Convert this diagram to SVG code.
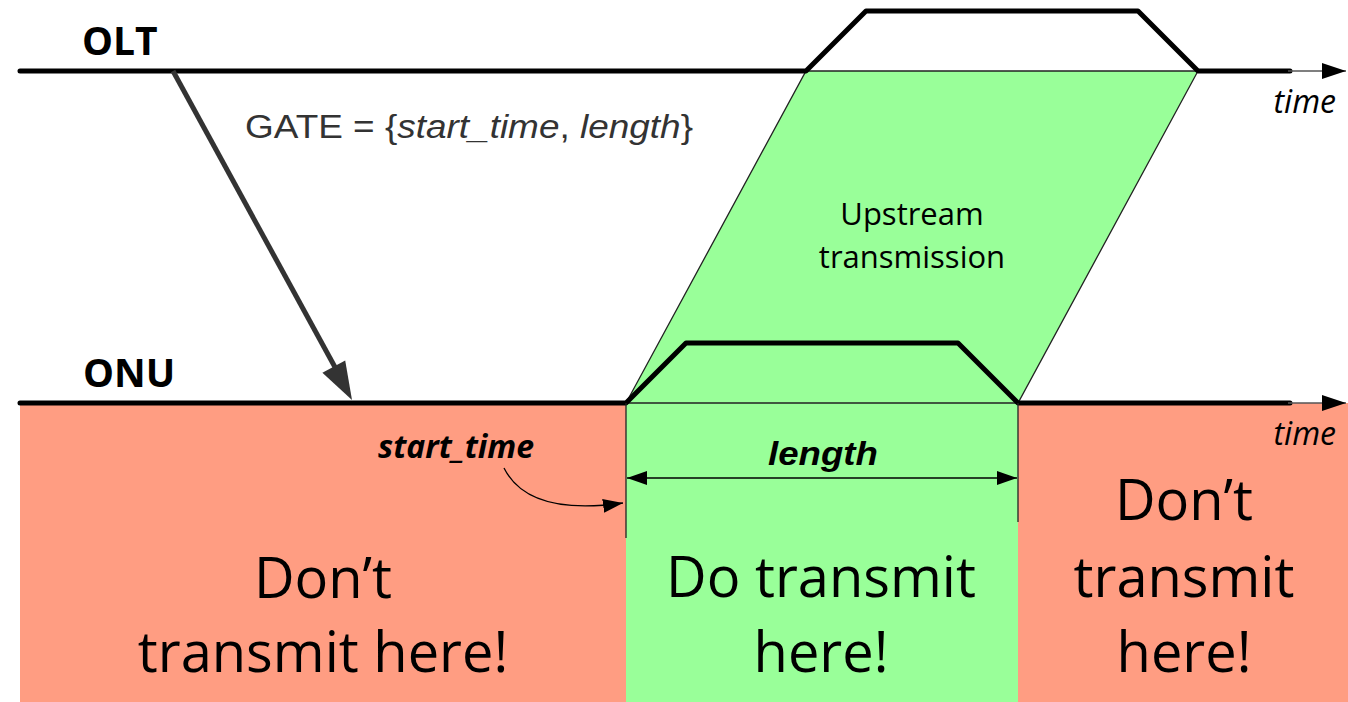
<svg xmlns="http://www.w3.org/2000/svg" width="1348" height="702" viewBox="0 0 1348 702">
<style>
.thick{stroke:#000;stroke-width:5;fill:none;stroke-linecap:round;stroke-linejoin:round}
.axis{stroke:#555;stroke-width:1.5;fill:none}
.edge{stroke:#222;stroke-width:1.3;fill:none}
.red{fill:#FF9D82}
.green{fill:#99FF99}
.big{font-family:"Open Sans",sans-serif;font-size:56px;text-anchor:middle;fill:#000}
.mid{font-family:"Open Sans",sans-serif;font-size:31px;text-anchor:middle;fill:#000}
.lbl{font-family:"Open Sans",sans-serif;font-size:39px;font-weight:bold;fill:#000}
.time{font-family:"Open Sans",sans-serif;font-size:32px;font-style:italic;text-anchor:end;fill:#000}
.arial{font-family:"Liberation Sans",Arial,sans-serif}
</style>
<defs>
<marker id="axisHead" viewBox="0 0 24 16" refX="24" refY="8" markerWidth="24" markerHeight="16" markerUnits="userSpaceOnUse" orient="auto">
<path d="M0,0 L24,8 L0,16 z" fill="#000"/>
</marker>
<marker id="smallHead" viewBox="0 0 20 14" refX="20" refY="7" markerWidth="20" markerHeight="14" markerUnits="userSpaceOnUse" orient="auto-start-reverse">
<path d="M0,0 L20,7 L0,14 z" fill="#000"/>
</marker>
</defs>
<rect width="1348" height="702" fill="#fff"/>

<g id="dont-left">
<rect class="red" x="20" y="403" width="606" height="299"/>
<text class="big" x="323" y="598">Don’t</text>
<text class="big" x="323" y="672">transmit here!</text>
</g>
<g id="do-transmit">
<rect class="green" x="626" y="403" width="392" height="299"/>
<text class="big" x="821" y="597">Do transmit</text>
<text class="big" x="821" y="672">here!</text>
</g>
<g id="dont-right">
<rect class="red" x="1018" y="403" width="330" height="299"/>
<text class="big" x="1184" y="520">Don’t</text>
<text class="big" x="1184" y="597">transmit</text>
<text class="big" x="1184" y="672">here!</text>
</g>

<g id="upstream">
<polygon class="green" points="806,71 1198,71 1018,403 626,403" stroke="#222" stroke-width="1.3"/>
<text class="mid" x="912" y="225">Upstream</text>
<text class="mid" x="912" y="268">transmission</text>
</g>

<g id="olt">
<text class="lbl" x="82" y="55">OLT</text>
<polyline class="thick" points="20,71 806,71 866,11 1138,11 1198,71 1290,71"/>
<line class="axis" x1="1288" y1="71" x2="1346" y2="71" marker-end="url(#axisHead)"/>
<text class="time" x="1336" y="113">time</text>
</g>

<g id="onu">
<text class="lbl" x="83" y="387">ONU</text>
<polyline class="thick" points="20,403 626,403 686,343 958,343 1018,403 1290,403"/>
<line class="axis" x1="1288" y1="403" x2="1346" y2="403" marker-end="url(#axisHead)"/>
<text class="time" x="1336" y="445">time</text>
<line class="edge" x1="626" y1="403" x2="626" y2="538"/>
<line class="edge" x1="1018" y1="403" x2="1018" y2="522"/>
</g>

<g id="gate-label">
<text class="arial" transform="translate(245,138) scale(1.12,1)" font-size="33" fill="#333">GATE = {<tspan font-style="italic">start_time</tspan>, <tspan font-style="italic">length</tspan>}</text>
</g>
<g id="start-time-label">
<text x="378" y="458" font-family="'Open Sans',sans-serif" font-size="32" font-weight="bold" font-style="italic">start_time</text>
</g>
<g id="length-label">
<text class="arial" transform="translate(823,465) scale(1.11,1)" font-size="33" font-weight="bold" font-style="italic" text-anchor="middle">length</text>
</g>

<g id="connectors">
<line x1="173" y1="71" x2="336" y2="369" stroke="#333" stroke-width="5"/>
<polygon points="352,400 345.2,360.4 322.4,372.8" fill="#333"/>
<line x1="627" y1="478" x2="1017" y2="478" stroke="#000" stroke-width="1.5" marker-start="url(#smallHead)" marker-end="url(#smallHead)"/>
<path d="M504,468 C520,500 560,512 623,503" stroke="#000" stroke-width="1.3" fill="none" marker-end="url(#smallHead)"/>
</g>
</svg>
